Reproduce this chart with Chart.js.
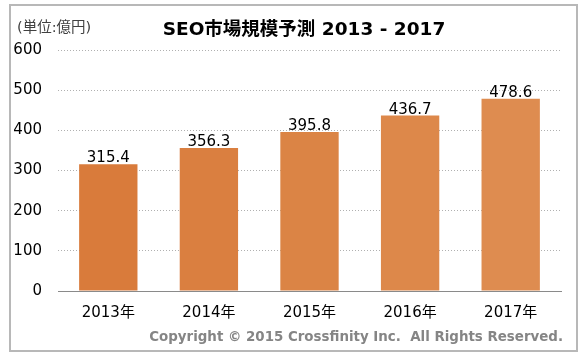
<!DOCTYPE html>
<html lang="ja">
<head>
    <meta charset="UTF-8">
    <title>SEO市場規模予測 2013 - 2017</title>
    <script src="https://cdn.jsdelivr.net/npm/chart.js"></script>
    <style>
        html, body { margin: 0; padding: 0; background: #fff; }
        .chart-container { position: relative; width: 587px; height: 359px; }
    </style>
</head>
<body>
    <div class="chart-container">
        <canvas id="seoChart"></canvas>
    </div>

    <script>
        // data
        const years = ['2013年', '2014年', '2015年', '2016年', '2017年'];
        const marketSize = [315.4, 356.3, 395.8, 436.7, 478.6];
        const yTicks = [0, 100, 200, 300, 400, 500, 600];
        const barColors = ['#D97B3B', '#DA7F40', '#DB8445', '#DD884A', '#DE8C50'];

        const titleText = 'SEO市場規模予測 2013 - 2017';
        const unitText = '(単位:億円)';
        const copyrightText = 'Copyright © 2015 Crossfinity Inc.  All Rights Reserved.';

        const FONT = '"DejaVu Sans", "Noto Sans CJK JP", sans-serif';

        // frame, title, unit label and copyright line
        const decorations = {
            id: 'decorations',
            beforeDraw(chart) {
                const ctx = chart.ctx;
                ctx.save();
                ctx.strokeStyle = '#b8b8b8';
                ctx.lineWidth = 2;
                ctx.strokeRect(10, 5, 567, 346);
                ctx.restore();
            },
            afterDraw(chart) {
                const ctx = chart.ctx;
                ctx.save();
                ctx.textBaseline = 'middle';

                ctx.fillStyle = '#000';
                ctx.font = 'bold 18.5px ' + FONT;
                ctx.textAlign = 'center';
                ctx.fillText(titleText, 304, 30);

                ctx.fillStyle = '#404040';
                ctx.font = '14.5px ' + FONT;
                ctx.textAlign = 'left';
                ctx.fillText(unitText, 17, 28);

                ctx.fillStyle = '#858585';
                ctx.font = 'bold 13.4px ' + FONT;
                ctx.textAlign = 'right';
                ctx.fillText(copyrightText, 563, 338);
                ctx.restore();
            }
        };

        // value labels above each bar
        const valueLabels = {
            id: 'valueLabels',
            afterDatasetsDraw(chart) {
                const ctx = chart.ctx;
                const meta = chart.getDatasetMeta(0);
                ctx.save();
                ctx.fillStyle = '#000';
                ctx.font = '15px ' + FONT;
                ctx.textAlign = 'center';
                ctx.textBaseline = 'alphabetic';
                meta.data.forEach((bar, i) => {
                    ctx.fillText(marketSize[i].toFixed(1), bar.x, bar.y - 2);
                });
                ctx.restore();
            }
        };

        new Chart(document.getElementById('seoChart'), {
            type: 'bar',
            data: {
                labels: years,
                datasets: [{
                    data: marketSize,
                    backgroundColor: barColors,
                    barPercentage: 0.58,
                    categoryPercentage: 1.0
                }]
            },
            options: {
                responsive: true,
                maintainAspectRatio: false,
                animation: false,
                layout: { padding: { top: 50, right: 26, left: 0, bottom: 0 } },
                plugins: {
                    legend: { display: false },
                    tooltip: { enabled: false }
                },
                scales: {
                    x: {
                        grid: { display: false, drawTicks: false },
                        border: { display: true, color: '#8a8a8a', width: 1 },
                        ticks: {
                            color: '#000',
                            padding: 13,
                            font: { family: FONT, size: 15 }
                        },
                        afterFit(scale) { scale.height = 68; }
                    },
                    y: {
                        min: 0,
                        max: 600,
                        afterBuildTicks(scale) {
                            scale.ticks = yTicks.map(v => ({ value: v }));
                        },
                        grid: { color: '#b0b0b0', lineWidth: 1, drawTicks: false },
                        border: { display: false, dash: [1, 2] },
                        ticks: {
                            color: '#000',
                            padding: 16,
                            font: { family: FONT, size: 15 }
                        },
                        afterFit(scale) { scale.width = 58; }
                    }
                }
            },
            plugins: [decorations, valueLabels]
        });
    </script>
</body>
</html>
